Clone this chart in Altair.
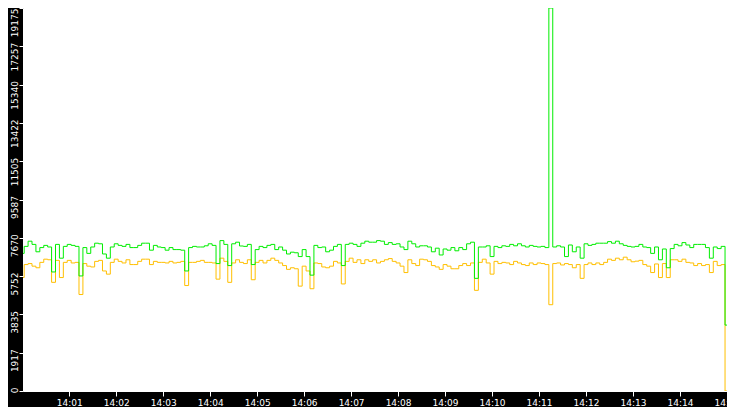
import altair as alt
import pandas as pd

# sample times: every 5 s from 14:00:00 to 14:15:00
times = [f"2024-01-01T14:{(5*i)//60:02d}:{(5*i)%60:02d}" for i in range(181)]

green = [6890,7240,7500,7340,6970,7180,7290,7210,5960,7340,
6650,7240,7340,7290,7240,5760,7180,6890,7210,7400,
7370,6860,6650,7210,7370,7290,7240,7340,7180,7180,
7290,7400,7400,7050,7290,7210,7180,7050,7180,7080,
7080,7050,6010,7180,7240,7210,7210,7270,7370,7290,
6380,7530,7340,6280,7370,7450,7260,7240,7340,6330,
7080,7240,7180,7290,7340,7080,7210,7050,6860,6950,
6920,6730,7080,6730,5800,7290,7180,7210,6970,7050,
7240,7340,6280,7340,7400,7340,7240,7400,7500,7450,
7450,7530,7500,7340,7430,7340,7370,7210,7080,7500,
7370,7210,7270,7270,7210,6970,7150,6810,7110,7050,
7180,7020,7180,7080,7370,7450,5640,7210,7210,7270,
6730,7240,7180,7270,7240,7340,7270,7370,7270,7210,
7290,7240,7210,7240,7180,19175,7210,7270,7210,6730,
7310,6970,7210,6650,7370,7290,7340,7400,7400,7400,
7480,7400,7500,7370,7290,7240,7210,7240,7340,7210,
7180,6890,7210,6570,7110,6170,7130,7340,7270,7430,
7310,7180,7340,7340,7340,7180,6650,7210,7130,7240,
3300]

orange = [5680,6330,6380,6250,6170,6440,6600,6570,5440,6540,
5680,6440,6540,6410,6440,4830,6380,6250,6210,6490,
6540,6010,5850,6440,6600,6490,6410,6570,6330,6330,
6490,6600,6600,6330,6490,6440,6440,6410,6490,6410,
6440,6490,5280,6440,6440,6490,6540,6440,6440,6410,
5600,6650,6490,5440,6410,6570,6440,6380,6570,5570,
6440,6540,6410,6540,6650,6540,6410,6280,6090,6170,
6120,5250,6250,6010,5120,6410,6380,6210,6170,6250,
6490,6410,5360,6490,6650,6440,6570,6380,6570,6490,
6570,6410,6490,6570,6630,6490,6410,6250,5930,6570,
6380,6280,6600,6570,6490,6280,6210,6090,6330,6250,
6120,6120,6280,6380,6280,6410,5040,6440,6600,6410,
5850,6490,6380,6440,6410,6330,6490,6410,6330,6280,
6410,6330,6410,6380,6330,4320,6380,6410,6310,6380,
6330,6170,6330,5640,6330,6410,6330,6410,6330,6440,
6600,6540,6650,6570,6700,6570,6470,6500,6540,6330,
6250,5930,6360,5680,6380,5680,6570,6570,6490,6600,
6440,6410,6280,6380,6280,6330,5930,6490,6280,6330,
0]

y_ticks = [0, 1917, 3835, 5752, 7670, 9587, 11505, 13422, 15340, 17257, 19175]
x_ticks = [alt.DateTime(year=2024, month=1, date=1, hours=14, minutes=m) for m in range(1, 16)]

df_g = pd.DataFrame({"t": times, "v": green})
df_o = pd.DataFrame({"t": times, "v": orange})

FONT = "DejaVu Sans"

x_enc = alt.X(
    "t:T",
    title=None,
    scale=alt.Scale(domain=[
        alt.DateTime(year=2024, month=1, date=1, hours=14, minutes=0, seconds=1),
        alt.DateTime(year=2024, month=1, date=1, hours=14, minutes=15, seconds=0),
    ]),
    axis=alt.Axis(
        format="%H:%M",
        values=x_ticks,
        grid=False,
        domain=False,
        tickColor="white",
        tickSize=5,
        labelColor="white",
        labelFont=FONT,
        labelFontSize=9,
        labelPadding=2,
        labelFlush=False,
        labelOverlap=False,
    ),
)

y_enc = alt.Y(
    "v:Q",
    title=None,
    scale=alt.Scale(domain=[0, 19175], nice=False),
    axis=alt.Axis(
        values=y_ticks,
        format="d",
        grid=False,
        domain=False,
        tickColor="white",
        tickSize=4,
        labelColor="white",
        labelFont=FONT,
        labelFontSize=9,
        labelAngle=270,
        labelAlign="right",
        labelBaseline="alphabetic",
        labelPadding=2,
        labelOffset={"condition": {"test": "datum.value >= 19000", "value": 0}, "value": -4},
    ),
)

line_o = alt.Chart(df_o).mark_line(
    color="#ffbf00", strokeWidth=1, interpolate="step", clip=True
).encode(x=x_enc, y=y_enc)

line_g = alt.Chart(df_g).mark_line(
    color="#00ee00", strokeWidth=1, interpolate="step", clip=True
).encode(x=x_enc, y=y_enc)

chart = alt.layer(line_o, line_g).properties(
    width=704,
    height=383,
    padding={"left": 15, "top": 0, "right": 0, "bottom": 16},
    autosize=alt.AutoSizeParams(type="none"),
    background="black",
).configure_view(fill="white", stroke="white", strokeWidth=1)

chart.save("out.html", embed_options={"renderer": "svg", "actions": False})
